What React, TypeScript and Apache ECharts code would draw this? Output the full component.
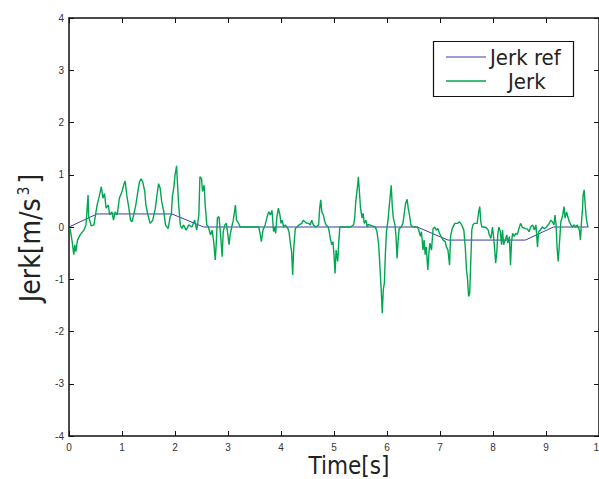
import { useEffect, useRef } from "react";
import * as echarts from "echarts";

const jerkTime = [
  0.02, 0.06, 0.09, 0.11, 0.13, 0.16, 0.21, 0.28, 0.32, 0.36, 0.37, 0.42, 0.47, 0.53, 0.57, 0.61, 0.64, 0.67, 0.7, 0.74,
  0.77, 0.81, 0.84, 0.87, 0.91, 0.95, 1.0, 1.04, 1.06, 1.09, 1.13, 1.16, 1.19, 1.22, 1.26, 1.3, 1.33, 1.36, 1.39, 1.43,
  1.45, 1.49, 1.53, 1.58, 1.63, 1.66, 1.69, 1.72, 1.75, 1.79, 1.82, 1.87, 1.91, 1.93, 1.95, 1.98, 2.0, 2.03, 2.05, 2.07,
  2.1, 2.13, 2.16, 2.21, 2.26, 2.32, 2.37, 2.41, 2.45, 2.47, 2.5, 2.52, 2.55, 2.57, 2.6, 2.63, 2.67, 2.7, 2.73, 2.76,
  2.78, 2.8, 2.83, 2.86, 2.89, 2.91, 2.94, 2.97, 2.99, 3.02, 3.04, 3.07, 3.1, 3.14, 3.16, 3.2, 3.23, 3.33, 3.45, 3.58,
  3.61, 3.63, 3.66, 3.7, 3.74, 3.77, 3.8, 3.83, 3.86, 3.88, 3.9, 3.92, 3.95, 3.98, 4.0, 4.02, 4.05, 4.08, 4.13, 4.15,
  4.18, 4.2, 4.22, 4.24, 4.27, 4.3, 4.34, 4.39, 4.42, 4.45, 4.49, 4.52, 4.55, 4.58, 4.61, 4.66, 4.71, 4.73, 4.75, 4.77,
  4.8, 4.82, 4.85, 4.89, 4.91, 4.93, 4.96, 4.98, 5.0, 5.02, 5.04, 5.07, 5.09, 5.11, 5.2, 5.31, 5.37, 5.39, 5.41, 5.44,
  5.46, 5.48, 5.5, 5.53, 5.55, 5.57, 5.6, 5.63, 5.65, 5.72, 5.78, 5.81, 5.84, 5.86, 5.88, 5.9, 5.91, 5.93, 5.95, 5.97,
  5.99, 6.02, 6.03, 6.05, 6.08, 6.1, 6.12, 6.15, 6.17, 6.19, 6.21, 6.23, 6.27, 6.3, 6.33, 6.35, 6.38, 6.4, 6.43, 6.45,
  6.49, 6.57, 6.6, 6.63, 6.65, 6.68, 6.7, 6.72, 6.74, 6.77, 6.79, 6.81, 6.84, 6.87, 6.9, 6.93, 6.96, 6.99, 7.02, 7.06,
  7.1, 7.12, 7.15, 7.18, 7.2, 7.23, 7.28, 7.33, 7.37, 7.41, 7.45, 7.48, 7.5, 7.52, 7.54, 7.56, 7.58, 7.6, 7.62, 7.65,
  7.7, 7.73, 7.75, 7.77, 7.79, 7.83, 7.87, 7.91, 7.93, 7.96, 7.99, 8.01, 8.03, 8.05, 8.07, 8.09, 8.11, 8.14, 8.16, 8.18,
  8.2, 8.24, 8.26, 8.28, 8.31, 8.33, 8.35, 8.37, 8.4, 8.43, 8.46, 8.49, 8.52, 8.55, 8.61, 8.65, 8.68, 8.71, 8.75, 8.78,
  8.81, 8.84, 8.86, 8.89, 8.93, 8.97, 9.01, 9.06, 9.09, 9.12, 9.15, 9.17, 9.19, 9.21, 9.23, 9.26, 9.28, 9.31, 9.34, 9.36,
  9.39, 9.41, 9.44, 9.47, 9.5, 9.53, 9.56, 9.59, 9.63, 9.65, 9.67, 9.69, 9.7, 9.72, 9.74, 9.76, 9.79, 9.8,
];

const jerkValue = [
  -0.03, -0.28, -0.53, -0.34, -0.47, -0.25, -0.15, -0.06, 0.04, 0.61, 0.2, 0.02, 0.04, 0.42, 0.58, 0.77, 0.55, 0.64, 0.36, 0.42,
  0.23, 0.29, 0.13, 0.29, 0.23, 0.55, 0.68, 0.83, 0.88, 0.61, 0.36, 0.13, 0.1, 0.23, 0.42, 0.68, 0.87, 0.92, 0.87, 0.68,
  0.42, 0.23, 0.07, 0.13, 0.36, 0.61, 0.83, 0.74, 0.48, 0.29, 0.04, -0.03, 0.2, 0.23, 0.58, 0.77, 0.99, 1.17, 0.77, 0.42,
  0.04, -0.03, 0.04, -0.06, 0.04, 0.0, 0.13, -0.06, 0.23, 0.96, 0.93, 0.68, 0.8, 0.42, 0.04, 0.0, -0.15, -0.06, -0.28, -0.63,
  -0.28, 0.17, 0.2, -0.15, -0.57, -0.09, 0.04, 0.07, -0.09, -0.34, -0.15, 0.0, 0.13, 0.42, 0.13, 0.07, 0.0, 0.0, 0.0, 0.0,
  -0.15, -0.28, -0.06, 0.04, 0.2, 0.29, 0.23, 0.32, -0.09, 0.0, -0.12, 0.17, 0.36, 0.23, 0.07, 0.13, 0.0, 0.04, -0.03, -0.09,
  -0.34, -0.47, -0.92, -0.41, -0.03, 0.0, 0.04, 0.07, 0.13, 0.1, 0.07, 0.07, 0.04, 0.13, 0.04, 0.0, 0.04, 0.36, 0.52, 0.29,
  0.23, 0.13, 0.04, 0.0, -0.09, -0.22, -0.34, -0.28, -0.53, -0.89, -0.44, -0.66, -0.28, 0.0, 0.0, 0.0, 0.04, 0.17, 0.48, 0.74,
  0.96, 0.67, 0.36, 0.17, 0.26, 0.07, 0.13, 0.0, 0.05, 0.02, 0.0, -0.09, -0.31, -0.63, -1.01, -1.39, -1.65, -1.2, -1.08, -0.5,
  -0.09, 0.13, 0.26, 0.48, 0.8, 0.39, 0.17, 0.04, -0.18, -0.6, -0.25, -0.03, 0.0, 0.07, 0.29, 0.45, 0.53, 0.36, 0.2, 0.04,
  0.0, 0.0, -0.06, -0.18, -0.09, -0.44, -0.25, -0.53, -0.38, -0.82, -0.5, -0.31, -0.44, -0.03, 0.0, -0.06, -0.03, -0.12, -0.18, -0.25,
  -0.28, -0.38, -0.44, -0.73, -0.18, -0.03, 0.07, 0.07, 0.1, 0.04, -0.06, -0.44, -0.82, -1.01, -1.33, -1.27, -0.69, -0.06, 0.04, 0.07,
  0.07, 0.29, 0.39, 0.1, 0.0, 0.0, -0.01, -0.06, -0.15, -0.22, 0.0, -0.18, -0.41, -0.69, -0.5, -0.15, 0.0, -0.09, -0.34, -0.06,
  -0.34, -0.22, -0.15, -0.31, -0.18, -0.73, -0.28, -0.12, -0.18, -0.12, -0.14, -0.03, 0.07, 0.0, -0.03, -0.04, -0.09, 0.0, 0.04, -0.06,
  0.04, -0.38, -0.09, -0.06, 0.0, -0.03, 0.0, 0.07, 0.13, 0.1, 0.04, 0.23, 0.04, -0.41, -0.66, -0.22, 0.1, 0.2, 0.39, 0.17,
  0.29, 0.2, 0.1, 0.04, 0.0, 0.04, 0.0, 0.04, -0.06, -0.25, 0.1, 0.36, 0.61, 0.71, 0.42, 0.17, 0.0, 0.0,
];

const refTime = [0, 0.53, 1.94, 2.54, 6.57, 7.15, 8.61, 9.14, 9.8];
const refValue = [0, 0.25, 0.25, 0, 0, -0.25, -0.25, 0, 0];

const legendNames = ["Jerk ref", "Jerk"];
const xTitle = "Time[s]";

const GREEN = "#00a651";
const BLUE = "#3c3ca8";
const TITLE_FONT = "'Liberation Sans Narrow', 'DejaVu Sans Condensed', 'Liberation Sans', sans-serif";
const TICK_FONT = "'Liberation Sans', Arial, sans-serif";

export default function App() {
  const ref = useRef<HTMLDivElement>(null);

  useEffect(() => {
    if (!ref.current) return;
    const chart = echarts.init(ref.current, undefined, { renderer: "svg" });

    const jerkData = jerkTime.map((t, i) => [t, jerkValue[i]]);
    const refData = refTime.map((t, i) => [t, refValue[i]]);

    const axisLine = { show: true, onZero: false, lineStyle: { color: "#111", width: 1.5 } };
    const axisTick = { show: true, inside: true, length: 5, lineStyle: { color: "#111", width: 1 } };
    const tickLabel = { color: "#333", fontSize: 10, fontFamily: TICK_FONT };

    chart.setOption({
      animation: false,
      backgroundColor: "#ffffff",
      grid: { left: 69, right: 0, top: 18, bottom: 43, containLabel: false, outerBoundsMode: "none" },
      xAxis: [
        {
          type: "value",
          position: "bottom",
          min: 0,
          max: 10,
          interval: 1,
          axisLine,
          axisTick,
          axisLabel: { ...tickLabel, margin: 6, hideOverlap: false },
          splitLine: { show: false },
        },
        {
          type: "value",
          position: "top",
          min: 0,
          max: 10,
          interval: 1,
          axisLine,
          axisTick,
          axisLabel: { show: false },
          splitLine: { show: false },
        },
      ],
      yAxis: [
        {
          type: "value",
          position: "left",
          min: -4,
          max: 4,
          interval: 1,
          axisLine,
          axisTick,
          axisLabel: { ...tickLabel, margin: 5 },
          splitLine: { show: false },
        },
        {
          type: "value",
          position: "right",
          min: -4,
          max: 4,
          interval: 1,
          axisLine,
          axisTick,
          axisLabel: { show: false },
          splitLine: { show: false },
        },
      ],
      series: [
        {
          name: legendNames[0],
          type: "line",
          data: refData,
          showSymbol: false,
          lineStyle: { color: BLUE, width: 1 },
          z: 2,
        },
        {
          name: legendNames[1],
          type: "line",
          data: jerkData,
          showSymbol: false,
          lineStyle: { color: GREEN, width: 1.4 },
          z: 3,
        },
      ],
      graphic: [
        {
          type: "rect",
          shape: { x: 433.5, y: 41.5, width: 140, height: 55 },
          style: { fill: "#fff", stroke: "#111", lineWidth: 1.2 },
          z: 10,
        },
        {
          type: "line",
          shape: { x1: 446, y1: 57, x2: 486, y2: 57 },
          style: { stroke: BLUE, lineWidth: 1 },
          z: 11,
        },
        {
          type: "line",
          shape: { x1: 446, y1: 81, x2: 486, y2: 81 },
          style: { stroke: GREEN, lineWidth: 1.4 },
          z: 11,
        },
        {
          type: "text",
          x: 490,
          y: 57,
          style: {
            text: legendNames[0],
            fill: "#222",
            font: `22px ${TITLE_FONT}`,
            textAlign: "left",
            textVerticalAlign: "middle",
          },
          z: 11,
        },
        {
          type: "text",
          x: 508,
          y: 81,
          style: {
            text: legendNames[1],
            fill: "#222",
            font: `22px ${TITLE_FONT}`,
            textAlign: "left",
            textVerticalAlign: "middle",
          },
          z: 11,
        },
        {
          type: "text",
          x: 349,
          y: 466,
          style: {
            text: xTitle,
            fill: "#222",
            font: `24px ${TITLE_FONT}`,
            textAlign: "center",
            textVerticalAlign: "middle",
          },
        },
        {
          type: "text",
          x: 30,
          y: 238,
          rotation: Math.PI / 2,
          style: {
            text: "Jerk[m/s{sup|3}]",
            fill: "#222",
            font: `28px ${TITLE_FONT}`,
            textAlign: "center",
            textVerticalAlign: "middle",
            rich: {
              sup: {
                fontSize: 15,
                fontFamily: TITLE_FONT,
                fill: "#222",
                padding: [0, 3, 13, 3],
              },
            },
          },
        },
      ],
    });

    return () => chart.dispose();
  }, []);

  return (
    <div
      ref={ref}
      style={{ position: "fixed", left: 0, top: 0, width: 599, height: 479, background: "#fff" }}
    />
  );
}
